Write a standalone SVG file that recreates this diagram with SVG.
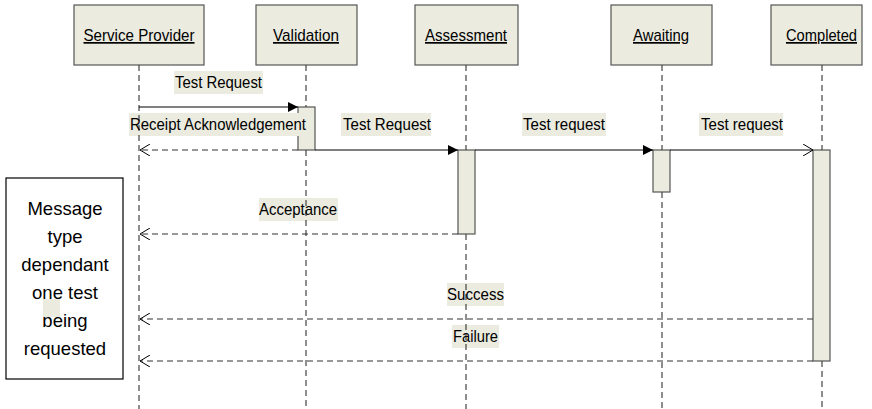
<svg xmlns="http://www.w3.org/2000/svg" width="872" height="409" viewBox="0 0 872 409">
<style>
text{font-family:"Liberation Sans",Arial,sans-serif;fill:#000}
.hdr{fill:#EBEBDF;stroke:#555;stroke-width:1.2}
.ht{font-size:17px;text-anchor:middle;text-decoration:underline}
.act{fill:#EBEBDF;stroke:#555;stroke-width:1.2}
.lbg{fill:#EBEBDF}
.lt{font-size:17px;text-anchor:middle}
.life{stroke:#444;stroke-width:1.2;stroke-dasharray:6 4;fill:none}
.msg{stroke:#000;stroke-width:1;fill:none}
.ret{stroke:#333;stroke-width:1.2;stroke-dasharray:6 4;fill:none}
.nt{font-size:18.5px;text-anchor:middle}
</style>
<defs>
<marker id="filled" viewBox="0 0 10 10" refX="10" refY="5" markerWidth="10" markerHeight="10" markerUnits="userSpaceOnUse" orient="auto">
<path d="M0,0 L10,5 L0,10 Z" fill="#000"/>
</marker>
<marker id="open" viewBox="0 0 12 12" refX="11" refY="6" markerWidth="12" markerHeight="12" markerUnits="userSpaceOnUse" orient="auto">
<path d="M1,0 L11,6 L1,12" fill="none" stroke="#000" stroke-width="1"/>
</marker>
</defs>

<g id="node-service-provider">
<rect class="hdr" x="74" y="5" width="130" height="60"/>
<text class="ht" x="139" y="41" textLength="111" lengthAdjust="spacingAndGlyphs">Service Provider</text>
</g>
<g id="node-validation">
<rect class="hdr" x="256" y="5" width="101" height="60"/>
<text class="ht" x="306" y="41" textLength="66" lengthAdjust="spacingAndGlyphs">Validation</text>
</g>
<g id="node-assessment">
<rect class="hdr" x="415" y="5" width="103" height="60"/>
<text class="ht" x="466" y="41" textLength="82" lengthAdjust="spacingAndGlyphs">Assessment</text>
</g>
<g id="node-awaiting">
<rect class="hdr" x="611" y="5" width="101" height="60"/>
<text class="ht" x="661" y="41" textLength="56" lengthAdjust="spacingAndGlyphs">Awaiting</text>
</g>
<g id="node-completed">
<rect class="hdr" x="771" y="5" width="91" height="60"/>
<text class="ht" x="821.5" y="41" textLength="71" lengthAdjust="spacingAndGlyphs">Completed</text>
</g>

<g id="activations">
<rect class="act" x="298" y="107" width="17" height="43"/>
<rect class="act" x="458" y="150" width="17" height="84"/>
<rect class="act" x="653" y="150" width="17" height="42"/>
<rect class="act" x="813" y="150" width="17" height="211"/>
</g>

<g id="label-backgrounds">
<rect class="lbg" x="174" y="71" width="89" height="23"/>
<rect class="lbg" x="129" y="113" width="178" height="23"/>
<rect class="lbg" x="341" y="113" width="90" height="23"/>
<rect class="lbg" x="522" y="113" width="84" height="23"/>
<rect class="lbg" x="699" y="113" width="84" height="23"/>
<rect class="lbg" x="259" y="198" width="79" height="23"/>
<rect class="lbg" x="447" y="283" width="57" height="23"/>
<rect class="lbg" x="452" y="325" width="47" height="23"/>
</g>

<g id="lifelines">
<line class="life" x1="139" y1="65" x2="139" y2="409"/>
<line class="life" x1="306" y1="65" x2="306" y2="107"/>
<line class="life" x1="306" y1="150" x2="306" y2="409"/>
<line class="life" x1="466" y1="65" x2="466" y2="150"/>
<line class="life" x1="466" y1="234" x2="466" y2="409"/>
<line class="life" x1="662" y1="65" x2="662" y2="150"/>
<line class="life" x1="662" y1="192" x2="662" y2="409"/>
<line class="life" x1="822" y1="65" x2="822" y2="150"/>
<line class="life" x1="822" y1="361" x2="822" y2="409"/>
</g>

<g id="connectors">
<line class="msg" x1="139" y1="107" x2="298" y2="107" marker-end="url(#filled)"/>
<line class="ret" x1="298" y1="150" x2="140" y2="150" marker-end="url(#open)"/>
<line class="msg" x1="315" y1="150" x2="458" y2="150" marker-end="url(#filled)"/>
<line class="msg" x1="475" y1="150" x2="653" y2="150" marker-end="url(#filled)"/>
<line class="msg" x1="670" y1="150" x2="813" y2="150" marker-end="url(#open)"/>
<line class="ret" x1="458" y1="234" x2="140" y2="234" marker-end="url(#open)"/>
<line class="ret" x1="813" y1="319" x2="140" y2="319" marker-end="url(#open)"/>
<line class="ret" x1="813" y1="361" x2="140" y2="361" marker-end="url(#open)"/>
</g>

<g id="labels">
<text class="lt" x="218.5" y="88" textLength="87" lengthAdjust="spacingAndGlyphs">Test Request</text>
<text class="lt" x="218" y="130" textLength="176" lengthAdjust="spacingAndGlyphs">Receipt Acknowledgement</text>
<text class="lt" x="387" y="130" textLength="88" lengthAdjust="spacingAndGlyphs">Test Request</text>
<text class="lt" x="564" y="130" textLength="82" lengthAdjust="spacingAndGlyphs">Test request</text>
<text class="lt" x="742" y="130" textLength="82" lengthAdjust="spacingAndGlyphs">Test request</text>
<text class="lt" x="298" y="215" textLength="78" lengthAdjust="spacingAndGlyphs">Acceptance</text>
<text class="lt" x="475.5" y="300" textLength="57" lengthAdjust="spacingAndGlyphs">Success</text>
<text class="lt" x="475.5" y="342" textLength="45" lengthAdjust="spacingAndGlyphs">Failure</text>
</g>

<g id="node-note">
<rect x="6" y="178" width="117" height="201" fill="#fff" stroke="#000" stroke-width="1.2"/>
<text class="nt" x="65" y="215">Message</text>
<text class="nt" x="65" y="243">type</text>
<text class="nt" x="65" y="271">dependant</text>
<text class="nt" x="65" y="299">one test</text>
<text class="nt" x="65" y="327">being</text>
<text class="nt" x="65" y="355">requested</text>
<rect class="lbg" x="43" y="299" width="17" height="18"/>
</g>
</svg>
